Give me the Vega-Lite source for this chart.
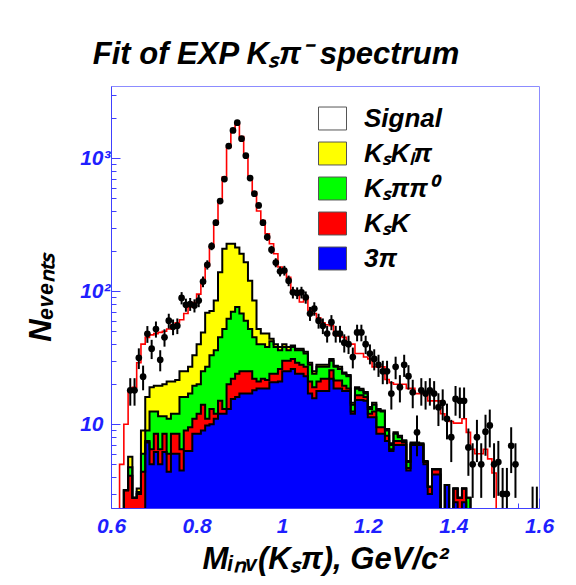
{
  "$schema": "https://vega.github.io/schema/vega-lite/v6.json",
  "width": 428,
  "height": 422,
  "autosize": {"type": "none"},
  "padding": {"left": 111, "top": 86, "right": 37, "bottom": 77},
  "background": "white",
  "title": {"text": "Fit of EXP Kₛπ⁻ spectrum", "font": "Liberation Sans", "fontSize": 31, "fontWeight": "bold", "fontStyle": "italic", "color": "black", "anchor": "middle", "frame": "group", "dx": -49, "dy": 34, "offset": 23, "baseline": "alphabetic"},
  "config": {
    "font": "Liberation Sans",
    "view": {"stroke": "#8c8cff", "strokeWidth": 1},
    "legend": {
      "orient": "none", "legendX": 207, "legendY": 18, "padding": 0, "title": null,
      "symbolType": "M-1,-0.82L1,-0.82L1,0.82L-1,0.82Z", "symbolSize": 784,
      "symbolStrokeColor": "#555555", "symbolStrokeWidth": 1, "symbolOpacity": 1,
      "labelFont": "Liberation Sans", "labelFontSize": 26, "labelFontWeight": "bold", "labelFontStyle": "italic",
      "labelColor": "black", "labelOffset": 17, "rowPadding": 7, "labelBaseline": "middle", "labelLimit": 300
    }
  },
  "data": {"values": [
    {"m":0.605,"tot":1,"yel":1,"grn":1,"red":1,"blu":1},
    {"m":0.615,"tot":1,"yel":1,"grn":1,"red":1,"blu":1},
    {"m":0.625,"tot":5,"yel":1,"grn":1,"red":1,"blu":1},
    {"m":0.635,"tot":10,"yel":3.2,"grn":3.2,"red":3.2,"blu":1},
    {"m":0.645,"tot":18,"yel":5.7,"grn":4.75,"red":4.1,"blu":1,"d":18,"lo":13.8,"hi":22.2},
    {"m":0.655,"tot":19,"yel":2.8,"grn":2.8,"red":2.8,"blu":1,"d":18,"lo":13.8,"hi":22.2},
    {"m":0.665,"tot":29,"yel":3.3,"grn":3.1,"red":3.0,"blu":1,"d":31.6,"lo":26,"hi":37.2},
    {"m":0.675,"tot":40,"yel":9,"grn":6,"red":4.4,"blu":1,"d":22.8,"lo":18,"hi":27.6},
    {"m":0.685,"tot":45,"yel":16,"grn":9,"red":7.5,"blu":7.3,"d":47.8,"lo":40.9,"hi":54.7},
    {"m":0.695,"tot":47,"yel":19,"grn":12.5,"red":6.5,"blu":5.0,"d":37,"lo":30.9,"hi":43.1},
    {"m":0.705,"tot":48,"yel":19.5,"grn":12.5,"red":8.5,"blu":6.2,"d":52,"lo":44.8,"hi":59.2},
    {"m":0.715,"tot":49,"yel":19.5,"grn":11.5,"red":6.5,"blu":5.0,"d":30.5,"lo":25,"hi":36},
    {"m":0.725,"tot":50,"yel":20,"grn":11.5,"red":8.5,"blu":6.2,"d":45,"lo":38.3,"hi":51.7},
    {"m":0.735,"tot":52,"yel":21,"grn":11,"red":6.0,"blu":4.4,"d":60,"lo":52.3,"hi":67.7},
    {"m":0.745,"tot":56,"yel":21,"grn":12,"red":8.5,"blu":6.0,"d":54,"lo":46.7,"hi":61.3},
    {"m":0.755,"tot":58,"yel":21.5,"grn":12,"red":8.5,"blu":6.0,"d":55,"lo":47.6,"hi":62.4},
    {"m":0.765,"tot":61,"yel":25,"grn":16,"red":6.5,"blu":4.5,"d":89,"lo":79.6,"hi":98.4},
    {"m":0.775,"tot":68,"yel":25,"grn":16,"red":9,"blu":6.3,"d":79,"lo":70.1,"hi":87.9},
    {"m":0.785,"tot":76,"yel":27,"grn":17,"red":9.5,"blu":6.3,"d":80,"lo":71.1,"hi":88.9},
    {"m":0.795,"tot":82,"yel":33,"grn":19.5,"red":11,"blu":8.5,"d":78,"lo":69.2,"hi":86.8},
    {"m":0.805,"tot":95,"yel":40,"grn":20,"red":12,"blu":8.5,"d":85,"lo":75.8,"hi":94.2},
    {"m":0.815,"tot":115,"yel":49,"grn":25,"red":14,"blu":9,"d":118,"lo":107.1,"hi":128.9},
    {"m":0.825,"tot":155,"yel":69,"grn":27,"red":11,"blu":9.8,"d":158,"lo":145.4,"hi":170.6},
    {"m":0.835,"tot":215,"yel":71,"grn":33,"red":13,"blu":10,"d":218,"lo":203.2,"hi":232.8},
    {"m":0.845,"tot":320,"yel":85,"grn":36,"red":12,"blu":11,"d":327,"lo":308.9,"hi":345.1},
    {"m":0.855,"tot":470,"yel":139,"grn":45,"red":15,"blu":12,"d":475,"lo":453.2,"hi":496.8},
    {"m":0.865,"tot":720,"yel":208,"grn":52,"red":13,"blu":12,"d":696,"lo":669.6,"hi":722.4},
    {"m":0.875,"tot":1200,"yel":227,"grn":62,"red":20,"blu":13,"d":1231,"lo":1195.9,"hi":1266.1},
    {"m":0.885,"tot":1580,"yel":227,"grn":70,"red":22,"blu":15.5,"d":1615,"lo":1574.8,"hi":1655.2},
    {"m":0.895,"tot":1800,"yel":213,"grn":76,"red":24,"blu":16,"d":1845,"lo":1802,"hi":1888},
    {"m":0.905,"tot":1450,"yel":191,"grn":68,"red":25,"blu":17,"d":1399,"lo":1361.6,"hi":1436.4},
    {"m":0.915,"tot":1060,"yel":165,"grn":60,"red":25,"blu":17,"d":1042,"lo":1009.7,"hi":1074.3},
    {"m":0.925,"tot":720,"yel":120,"grn":52,"red":25,"blu":17,"d":708,"lo":681.4,"hi":734.6},
    {"m":0.935,"tot":555,"yel":85,"grn":45,"red":22,"blu":18,"d":540,"lo":516.8,"hi":563.2},
    {"m":0.945,"tot":400,"yel":52,"grn":40,"red":21,"blu":18.6,"d":441,"lo":420,"hi":462},
    {"m":0.955,"tot":340,"yel":48,"grn":40,"red":22,"blu":18.6,"d":327,"lo":308.9,"hi":345.1},
    {"m":0.965,"tot":270,"yel":48,"grn":38,"red":21.5,"blu":18.6,"d":255,"lo":239,"hi":271},
    {"m":0.975,"tot":227,"yel":44,"grn":42,"red":24,"blu":20.7,"d":205,"lo":190.7,"hi":219.3},
    {"m":0.985,"tot":191,"yel":40,"grn":38,"red":24,"blu":20.7,"d":164,"lo":151.2,"hi":176.8},
    {"m":0.995,"tot":152,"yel":38,"grn":36,"red":26,"blu":21,"d":141,"lo":129.1,"hi":152.9},
    {"m":1.005,"tot":139,"yel":40,"grn":38,"red":30,"blu":25,"d":143,"lo":131,"hi":155},
    {"m":1.015,"tot":127,"yel":38,"grn":36,"red":30,"blu":25,"d":120,"lo":109,"hi":131},
    {"m":1.025,"tot":101,"yel":39,"grn":38,"red":31,"blu":26,"d":98,"lo":88.1,"hi":107.9},
    {"m":1.035,"tot":96,"yel":37,"grn":36,"red":29,"blu":24,"d":97,"lo":87.2,"hi":106.8},
    {"m":1.045,"tot":83,"yel":37,"grn":36,"red":28,"blu":24,"d":98,"lo":88.1,"hi":107.9},
    {"m":1.055,"tot":90,"yel":35,"grn":34,"red":27,"blu":23,"d":90,"lo":80.5,"hi":99.5},
    {"m":1.065,"tot":72,"yel":29,"grn":28,"red":21,"blu":17,"d":68,"lo":59.8,"hi":76.2},
    {"m":1.075,"tot":68,"yel":25,"grn":24,"red":19,"blu":15.7,"d":74,"lo":65.4,"hi":82.6},
    {"m":1.085,"tot":63,"yel":28,"grn":27,"red":21,"blu":17.8,"d":60,"lo":52.3,"hi":67.7},
    {"m":1.095,"tot":58,"yel":28,"grn":27,"red":22,"blu":17.8,"d":55,"lo":47.6,"hi":62.4},
    {"m":1.105,"tot":56,"yel":28,"grn":27,"red":22,"blu":17.8,"d":48,"lo":41.1,"hi":54.9},
    {"m":1.115,"tot":55,"yel":31,"grn":30,"red":25.5,"blu":22,"d":58.5,"lo":50.9,"hi":66.1},
    {"m":1.125,"tot":47,"yel":27.5,"grn":27,"red":21.3,"blu":18.6,"d":48,"lo":41.1,"hi":54.9},
    {"m":1.135,"tot":46,"yel":27,"grn":26,"red":21.3,"blu":18.6,"d":48,"lo":41.1,"hi":54.9},
    {"m":1.145,"tot":45,"yel":24.5,"grn":24,"red":19.5,"blu":17.8,"d":41,"lo":34.6,"hi":47.4},
    {"m":1.155,"tot":40,"yel":23.5,"grn":23,"red":18.6,"blu":17.8,"d":40,"lo":33.7,"hi":46.3},
    {"m":1.165,"tot":40,"yel":14.5,"grn":14,"red":12.5,"blu":12,"d":32,"lo":26.3,"hi":37.7},
    {"m":1.175,"tot":34,"yel":19,"grn":18.5,"red":16.5,"blu":15.2,"d":49,"lo":42,"hi":56},
    {"m":1.185,"tot":34,"yel":18.5,"grn":18,"red":16.5,"blu":15.2,"d":49,"lo":42,"hi":56},
    {"m":1.195,"tot":32,"yel":17.5,"grn":17,"red":16,"blu":15,"d":40,"lo":33.7,"hi":46.3},
    {"m":1.205,"tot":31,"yel":13.5,"grn":13,"red":12,"blu":11.3,"d":34,"lo":28.2,"hi":39.8},
    {"m":1.215,"tot":27,"yel":14.5,"grn":14,"red":12.5,"blu":11.3,"d":31,"lo":25.4,"hi":36.6},
    {"m":1.225,"tot":27,"yel":13,"grn":12.7,"red":9.5,"blu":8.5,"d":28,"lo":22.7,"hi":33.3},
    {"m":1.235,"tot":27,"yel":12.7,"grn":12.5,"red":9.5,"blu":8.5,"d":25,"lo":20,"hi":30},
    {"m":1.245,"tot":21.7,"yel":9.2,"grn":9,"red":8.2,"blu":7.5,"d":25,"lo":20,"hi":30},
    {"m":1.255,"tot":20.5,"yel":7.2,"grn":7,"red":6.5,"blu":6.3,"d":17,"lo":12.9,"hi":21.1},
    {"m":1.265,"tot":20,"yel":8.7,"grn":8.5,"red":7.5,"blu":7,"d":27,"lo":21.8,"hi":32.2},
    {"m":1.275,"tot":20,"yel":8.2,"grn":8,"red":7.5,"blu":7,"d":19,"lo":14.6,"hi":23.4},
    {"m":1.285,"tot":20,"yel":7.6,"grn":7.5,"red":7.3,"blu":7,"d":28,"lo":22.7,"hi":33.3},
    {"m":1.295,"tot":18.6,"yel":5.3,"grn":5.2,"red":4.7,"blu":4.5,"d":23,"lo":18.2,"hi":27.8},
    {"m":1.305,"tot":18.6,"yel":7.3,"grn":7.2,"red":7.1,"blu":7,"d":17.4,"lo":13.2,"hi":21.6},
    {"m":1.315,"tot":17,"yel":7.3,"grn":7.2,"red":7.1,"blu":7,"d":8.7,"lo":5.75,"hi":11.65},
    {"m":1.325,"tot":17,"yel":7.2,"grn":7.1,"red":7.05,"blu":7,"d":18,"lo":13.8,"hi":22.2},
    {"m":1.335,"tot":17,"yel":5.3,"grn":5.2,"red":5.2,"blu":5.0,"d":17,"lo":12.9,"hi":21.1},
    {"m":1.345,"tot":15,"yel":3.4,"grn":3.4,"red":3.4,"blu":3.0,"d":18,"lo":13.8,"hi":22.2},
    {"m":1.355,"tot":15,"yel":4.6,"grn":4.6,"red":4.6,"blu":4.2,"d":17,"lo":12.9,"hi":21.1},
    {"m":1.365,"tot":15,"yel":4.6,"grn":4.6,"red":4.6,"blu":4.2,"d":13.4,"lo":9.7,"hi":17.1},
    {"m":1.375,"tot":12,"yel":1,"grn":1,"red":1,"blu":1,"d":14.5,"lo":10.7,"hi":18.3},
    {"m":1.385,"tot":11,"yel":3.5,"grn":3.5,"red":3.5,"blu":3.5,"d":11,"lo":7.7,"hi":14.3},
    {"m":1.395,"tot":10.5,"yel":1,"grn":1,"red":1,"blu":1,"d":8,"lo":5.2,"hi":10.8},
    {"m":1.405,"tot":10.2,"yel":3.3,"grn":3.3,"red":3.3,"blu":2.6,"d":15.5,"lo":11.6,"hi":19.4},
    {"m":1.415,"tot":10.2,"yel":2.8,"grn":2.8,"red":2.8,"blu":1,"d":15,"lo":11.1,"hi":18.9},
    {"m":1.425,"tot":11,"yel":3.3,"grn":3.3,"red":3.3,"blu":2.6,"d":15,"lo":11.1,"hi":18.9},
    {"m":1.435,"tot":8.7,"yel":2.8,"grn":2.8,"red":1,"blu":1,"d":6.7,"lo":4.1,"hi":9.3},
    {"m":1.445,"tot":6.5,"yel":1,"grn":1,"red":1,"blu":1,"d":5,"lo":2.8,"hi":7.2},
    {"m":1.455,"tot":6,"yel":1,"grn":1,"red":1,"blu":1,"d":8,"lo":5.2,"hi":10.8},
    {"m":1.465,"tot":6,"yel":1,"grn":1,"red":1,"blu":1,"d":5,"lo":2.8,"hi":7.2},
    {"m":1.475,"tot":6.5,"yel":1,"grn":1,"red":1,"blu":1,"d":8.8,"lo":5.8,"hi":11.8},
    {"m":1.485,"tot":5.5,"yel":1,"grn":1,"red":1,"blu":1,"d":9.8,"lo":6.7,"hi":12.9},
    {"m":1.495,"tot":4.3,"yel":1,"grn":1,"red":1,"blu":1,"d":5,"lo":2.8,"hi":7.2},
    {"m":1.505,"tot":1,"yel":1,"grn":1,"red":1,"blu":1,"d":5.2,"lo":2.9,"hi":7.5},
    {"m":1.515,"tot":1,"yel":1,"grn":1,"red":1,"blu":1,"d":3,"lo":1.3,"hi":4.7},
    {"m":1.525,"tot":1,"yel":1,"grn":1,"red":1,"blu":1,"d":3,"lo":1.3,"hi":4.7},
    {"m":1.535,"tot":1,"yel":1,"grn":1,"red":1,"blu":1,"d":6.9,"lo":4.3,"hi":9.5},
    {"m":1.545,"tot":1,"yel":1,"grn":1,"red":1,"blu":1,"d":5,"lo":2.8,"hi":7.2},
    {"m":1.555,"tot":1,"yel":1,"grn":1,"red":1,"blu":1},
    {"m":1.565,"tot":1,"yel":1,"grn":1,"red":1,"blu":1},
    {"m":1.575,"tot":1,"yel":1,"grn":1,"red":1,"blu":1},
    {"m":1.585,"tot":1,"yel":1,"grn":1,"red":1,"blu":1,"d":2,"lo":0.6,"hi":3.4},
    {"m":1.595,"tot":1,"yel":1,"grn":1,"red":1,"blu":1,"d":2,"lo":0.6,"hi":3.4}
  ]},
  "encoding": {
    "x": {
      "field": "m", "type": "quantitative",
      "scale": {"domain": [0.6, 1.6], "nice": false, "zero": false},
      "axis": {
        "title": "Mᵢₙᵥ(Kₛπ), GeV/c²",
        "titleFont": "Liberation Sans", "titleFontSize": 31, "titleFontWeight": "bold", "titleFontStyle": "italic", "titleColor": "black",
        "titleX": 214, "titleY": 60, "titleBaseline": "alphabetic", "titleAlign": "center",
        "values": [0.6,0.65,0.7,0.75,0.8,0.85,0.9,0.95,1,1.05,1.1,1.15,1.2,1.25,1.3,1.35,1.4,1.45,1.5,1.55,1.6],
        "labelExpr": "indexof(['0.6','0.8','1','1.2','1.4','1.6'], format(datum.value,'.2~f')) >= 0 ? format(datum.value,'.2~f') : ''",
        "tickSize": {"condition": {"test": "indexof(['0.6','0.8','1','1.2','1.4','1.6'], format(datum.value,'.2~f')) >= 0", "value": -10}, "value": -5},
        "labelFont": "Liberation Sans", "labelFontSize": 21, "labelFontWeight": "bold", "labelFontStyle": "italic", "labelColor": "#1f1fff",
        "labelBaseline": "alphabetic", "labelPadding": 34, "labelOverlap": false, "labelBound": false, "labelFlush": false,
        "domainColor": "#4040ff", "tickColor": "#4040ff", "tickWidth": 1, "grid": false
      }
    }
  },
  "layer": [
    {
      "mark": {"type": "area", "interpolate": "step", "clip": true},
      "encoding": {
        "y": {
          "field": "tot", "type": "quantitative", "stack": null,
          "scale": {"type": "log", "domain": [2.35, 3480], "nice": false},
          "axis": {
            "title": "Nₑᵥₑₙₜₛ",
            "titleFont": "Liberation Sans", "titleFontSize": 31, "titleFontWeight": "bold", "titleFontStyle": "italic", "titleColor": "black",
            "titleX": -61, "titleY": 211, "titleAngle": -90, "titleBaseline": "alphabetic", "titleAlign": "center",
            "values": [3,4,5,6,7,8,9,10,20,30,40,50,60,70,80,90,100,200,300,400,500,600,700,800,900,1000,2000,3000],
            "labelExpr": "datum.value == 1000 ? '10³' : datum.value == 100 ? '10²' : datum.value == 10 ? '10' : ''",
            "tickSize": {"condition": {"test": "datum.value == 10 || datum.value == 100 || datum.value == 1000", "value": -9}, "value": -5},
            "labelFont": "Liberation Sans", "labelFontSize": 21, "labelFontWeight": "bold", "labelFontStyle": "italic", "labelColor": "#1f1fff",
            "labelBaseline": "middle",
            "labelPadding": {"condition": {"test": "datum.value == 10", "value": 17}, "value": 10},
            "labelOverlap": false, "labelBound": false, "labelFlush": false,
            "domainColor": "#4040ff", "tickColor": "#4040ff", "tickWidth": 1, "grid": false
          }
        },
        "color": {
          "datum": "Signal", "type": "nominal",
          "scale": {"domain": ["Signal", "KₛKₗπ", "Kₛππ⁰", "KₛK", "3π"], "range": ["#ffffff", "#ffff00", "#00ff00", "#ff0000", "#0000ff"]},
          "legend": {"title": null}
        }
      }
    },
    {
      "mark": {"type": "area", "interpolate": "step", "clip": true},
      "encoding": {"y": {"field": "yel", "type": "quantitative", "stack": null, "title": "Nₑᵥₑₙₜₛ"}, "color": {"datum": "KₛKₗπ", "type": "nominal"}}
    },
    {
      "mark": {"type": "area", "interpolate": "step", "clip": true},
      "encoding": {"y": {"field": "grn", "type": "quantitative", "stack": null, "title": "Nₑᵥₑₙₜₛ"}, "color": {"datum": "Kₛππ⁰", "type": "nominal"}}
    },
    {
      "mark": {"type": "area", "interpolate": "step", "clip": true},
      "encoding": {"y": {"field": "red", "type": "quantitative", "stack": null, "title": "Nₑᵥₑₙₜₛ"}, "color": {"datum": "KₛK", "type": "nominal"}}
    },
    {
      "mark": {"type": "area", "interpolate": "step", "clip": true},
      "encoding": {"y": {"field": "blu", "type": "quantitative", "stack": null, "title": "Nₑᵥₑₙₜₛ"}, "color": {"datum": "3π", "type": "nominal"}}
    },
    {
      "mark": {"type": "line", "interpolate": "step", "clip": true, "color": "black", "strokeWidth": 2},
      "encoding": {"y": {"field": "yel", "type": "quantitative", "title": "Nₑᵥₑₙₜₛ"}}
    },
    {
      "mark": {"type": "line", "interpolate": "step", "clip": true, "color": "black", "strokeWidth": 2},
      "encoding": {"y": {"field": "grn", "type": "quantitative", "title": "Nₑᵥₑₙₜₛ"}}
    },
    {
      "mark": {"type": "line", "interpolate": "step", "clip": true, "color": "black", "strokeWidth": 2},
      "encoding": {"y": {"field": "red", "type": "quantitative", "title": "Nₑᵥₑₙₜₛ"}}
    },
    {
      "mark": {"type": "line", "interpolate": "step", "clip": true, "color": "black", "strokeWidth": 2},
      "encoding": {"y": {"field": "blu", "type": "quantitative", "title": "Nₑᵥₑₙₜₛ"}}
    },
    {
      "mark": {"type": "line", "interpolate": "step", "clip": true, "color": "#ff0000", "strokeWidth": 1.6},
      "encoding": {"y": {"field": "tot", "type": "quantitative", "title": "Nₑᵥₑₙₜₛ"}}
    },
    {
      "mark": {"type": "rule", "clip": true, "color": "black", "strokeWidth": 2},
      "encoding": {"y": {"field": "lo", "type": "quantitative", "title": "Nₑᵥₑₙₜₛ"}, "y2": {"field": "hi"}}
    },
    {
      "mark": {"type": "point", "filled": true, "shape": "circle", "clip": true, "color": "black", "size": 45, "opacity": 1},
      "encoding": {"y": {"field": "d", "type": "quantitative", "title": "Nₑᵥₑₙₜₛ"}}
    }
  ]
}
